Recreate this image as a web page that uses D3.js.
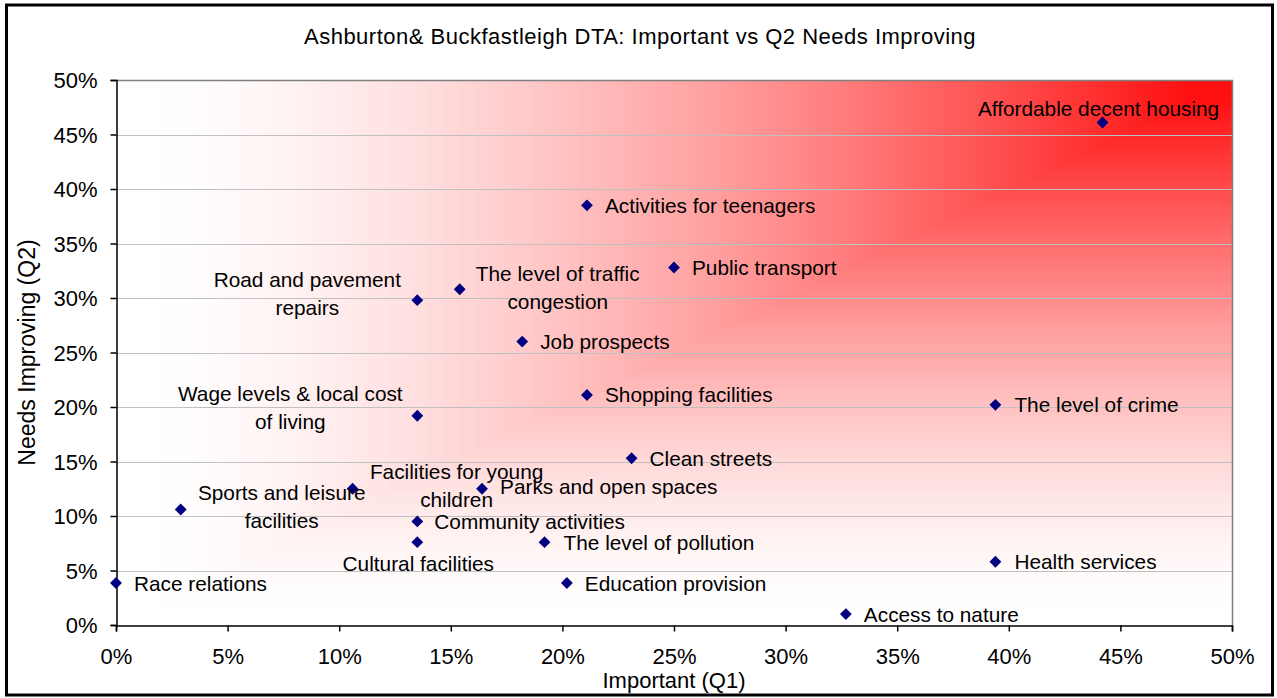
<!DOCTYPE html>
<html>
<head>
<meta charset="utf-8">
<script src="https://d3js.org/d3.v7.min.js"></script>
<style>
  body { margin: 0; background: #fff; }
  text { font-family: "Liberation Sans", Arial, sans-serif; fill: #000; }
</style>
</head>
<body>
<div id="container"></div>
<script>
  // svg dimensions
  width = 1277
  height = 698

  // plot area
  var margin = {left: 116, right: 45, top: 80, bottom: 73};

  // data (percent)
  var issues = ["Affordable decent housing", "Activities for teenagers", "Public transport",
    "The level of traffic congestion", "Road and pavement repairs", "Job prospects",
    "Shopping facilities", "Wage levels & local cost of living", "The level of crime",
    "Clean streets", "Facilities for young children", "Parks and open spaces",
    "Sports and leisure facilities", "Community activities", "Cultural facilities",
    "The level of pollution", "Race relations", "Education provision",
    "Health services", "Access to nature"];
  var important = [44.2, 21.1, 25.0, 15.4, 13.5, 18.2, 21.1, 13.5, 39.4, 23.1,
    10.6, 16.4, 2.9, 13.5, 13.5, 19.2, 0.0, 20.2, 39.4, 32.7];
  var needsImproving = [46.1, 38.5, 32.8, 30.8, 29.8, 26.0, 21.1, 19.2, 20.2, 15.3,
    12.5, 12.5, 10.6, 9.5, 7.6, 7.6, 3.85, 3.85, 5.8, 1.0];
  var tickValues = [0, 5, 10, 15, 20, 25, 30, 35, 40, 45, 50];

  // label placement: wrapped lines, offset from point (px), anchor
  var labelLines = [["Affordable decent housing"], ["Activities for teenagers"], ["Public transport"],
    ["The level of traffic", "congestion"], ["Road and pavement", "repairs"], ["Job prospects"],
    ["Shopping facilities"], ["Wage levels & local cost", "of living"], ["The level of crime"],
    ["Clean streets"], ["Facilities for young", "children"], ["Parks and open spaces"],
    ["Sports and leisure", "facilities"], ["Community activities"], ["Cultural facilities"],
    ["The level of pollution"], ["Race relations"], ["Education provision"],
    ["Health services"], ["Access to nature"]];
  var labelOffset = [[-4, -14, "middle"], [18, 0, "start"], [18, 0, "start"],
    [98, -16, "middle"], [-110, -21, "middle"], [18, 0, "start"],
    [18, 0, "start"], [-127, -22, "middle"], [19, 0, "start"],
    [18, 0, "start"], [104, -17, "middle"], [18, -2, "start"],
    [101, -17, "middle"], [17, 0, "start"], [1, 21, "middle"],
    [19, 0, "start"], [18, 0, "start"], [18, 0, "start"],
    [19, 0, "start"], [18, 0, "start"]];

  var svg = d3.select("#container").append("svg")
    .attr("width", width)
    .attr("height", height);

  var x = d3.scaleLinear().domain([0, 50]).range([margin.left, width - margin.right]);
  var y = d3.scaleLinear().domain([0, 50]).range([height - margin.bottom, margin.top]);

  var pw = x(50) - x(0), ph = y(0) - y(50);

  // background gradient from top-right corner, drawn as nested rects
  var steps = 140;
  var bg = svg.append("g");
  for (var i = steps; i >= 1; i--) {
      var t = i / steps;
      var g = Math.max(16, Math.round(255 * (1 - Math.pow(Math.max(0, 1 - t * 1.02), 1.5))));
      if (t * 1.02 >= 1) g = 255;
      bg.append("rect")
        .attr("x", x(50) - pw * t)
        .attr("y", y(50))
        .attr("width", pw * t)
        .attr("height", ph * t)
        .attr("fill", "rgb(255," + g + "," + g + ")");
  }

  // gridlines
  svg.append("g")
    .selectAll("line")
    .data(tickValues.slice(1))
    .join("line")
    .attr("x1", x(0))
    .attr("x2", x(50))
    .attr("y1", function(d) { return Math.round(y(d)) + 0.5; })
    .attr("y2", function(d) { return Math.round(y(d)) + 0.5; })
    .attr("stroke", "#c0c0c0")
    .attr("stroke-width", 1);

  // plot border (top, right)
  svg.append("path")
    .attr("d", "M" + x(0) + "," + (y(50) + 0.5) + "H" + (x(50) + 0.5) + "V" + y(0))
    .attr("fill", "none")
    .attr("stroke", "#808080")
    .attr("stroke-width", 1.5);

  // axes
  var xAxis = d3.axisBottom(x).tickValues(tickValues).tickSize(6).tickPadding(17)
    .tickFormat(function(d) { return d + "%"; });
  var yAxis = d3.axisLeft(y).tickValues(tickValues).tickSize(6).tickPadding(13)
    .tickFormat(function(d) { return d + "%"; });

  var gx = svg.append("g")
    .attr("transform", "translate(0," + (y(0) + 0.5) + ")")
    .call(xAxis);
  var gy = svg.append("g")
    .attr("transform", "translate(" + (x(0) + 0.5) + ",0)")
    .call(yAxis);

  [gx, gy].forEach(function(a) {
      a.select(".domain").attr("stroke", "#000").attr("stroke-width", 1.5);
      a.selectAll(".tick line").attr("stroke", "#000").attr("stroke-width", 1.5);
      a.selectAll(".tick text")
        .style("font-family", "'Liberation Sans', Arial, sans-serif")
        .style("font-size", "22px")
        .attr("fill", "#000");
  });
  gy.selectAll(".tick text").attr("dy", "0.36em");

  // points
  var idx = d3.range(issues.length);
  svg.append("g")
    .selectAll("path")
    .data(idx)
    .join("path")
    .attr("d", d3.symbol(d3.symbolSquare, 70))
    .attr("transform", function(i) {
        return "translate(" + x(important[i]) + "," + y(needsImproving[i]) + ") rotate(45)";
    })
    .attr("fill", "#000080");

  // labels
  var labels = svg.append("g")
    .selectAll("text")
    .data(idx)
    .join("text")
    .attr("text-anchor", function(i) { return labelOffset[i][2]; })
    .style("font-size", "20.8px")
    .attr("x", function(i) { return x(important[i]) + labelOffset[i][0]; })
    .attr("y", function(i) { return y(needsImproving[i]) + labelOffset[i][1]; });

  labels.each(function(i) {
      var el = d3.select(this);
      labelLines[i].forEach(function(line, k) {
          el.append("tspan")
            .attr("x", x(important[i]) + labelOffset[i][0])
            .attr("dy", k == 0 ? "0.36em" : "28px")
            .text(line);
      });
  });

  // title
  svg.append("text")
    .attr("x", 640)
    .attr("y", 44)
    .attr("text-anchor", "middle")
    .style("font-size", "22px")
    .style("letter-spacing", "0.5px")
    .text("Ashburton& Buckfastleigh DTA: Important vs Q2 Needs Improving");

  // axis titles
  svg.append("text")
    .attr("x", 674)
    .attr("y", 688)
    .attr("text-anchor", "middle")
    .style("font-size", "22px")
    .text("Important (Q1)");

  svg.append("text")
    .attr("transform", "translate(35," + (y(25)) + ") rotate(-90)")
    .attr("text-anchor", "middle")
    .style("font-size", "23px")
    .text("Needs Improving (Q2)");

  // outer border
  svg.append("rect")
    .attr("x", 6.5)
    .attr("y", 5)
    .attr("width", 1266)
    .attr("height", 690)
    .attr("fill", "none")
    .attr("stroke", "#000")
    .attr("stroke-width", 3);
</script>
</body>
</html>
